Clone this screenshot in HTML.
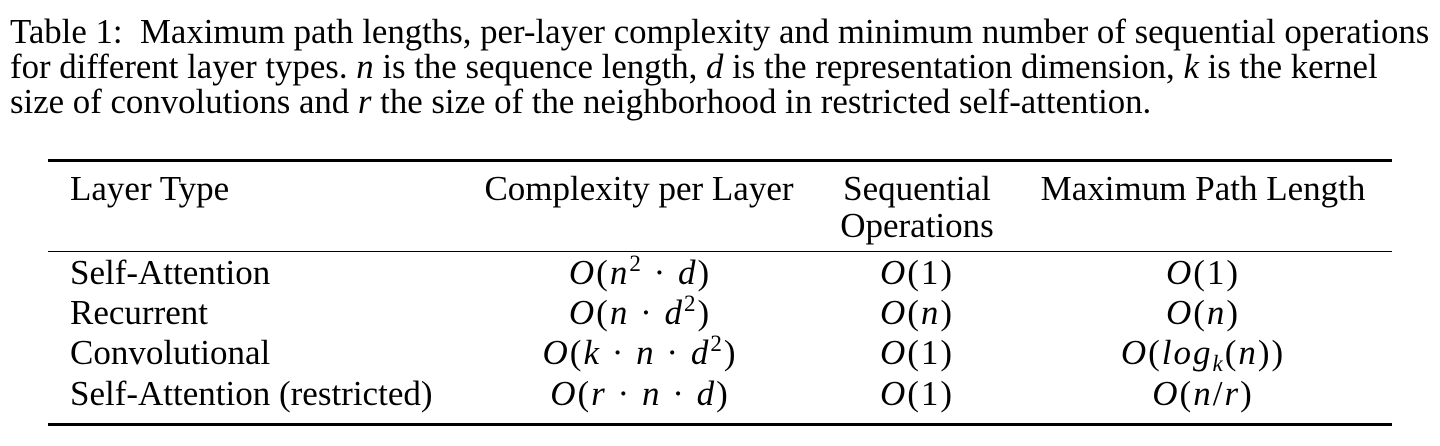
<!DOCTYPE html>
<html><head><meta charset="utf-8">
<style>
body{margin:0;background:#fff;width:1440px;height:446px;overflow:hidden;font-family:"Liberation Serif",serif;color:#000}
.cap{position:absolute;left:10px;font-size:34.8px;white-space:nowrap;line-height:1}
.t{position:absolute;font-size:35px;white-space:nowrap;line-height:1}
.m{letter-spacing:2px}
.c{transform:translateX(-50%)}
i{font-style:italic}
.rule{position:absolute;left:48px;width:1344px;background:#000}
sup{font-size:23px;vertical-align:0;position:relative;top:-13px}
sub{font-size:23px;vertical-align:0;position:relative;top:7px}
</style></head><body>
<div class="cap" style="top:15px">Table 1:&nbsp; Maximum path lengths, per-layer complexity and minimum number of sequential operations</div>
<div class="cap" style="top:50px">for different layer types. <i>n</i> is the sequence length, <i>d</i> is the representation dimension, <i>k</i> is the kernel</div>
<div class="cap" style="top:85px">size of convolutions and <i>r</i> the size of the neighborhood in restricted self-attention.</div>

<div class="rule" style="top:159px;height:2.5px"></div>
<div class="rule" style="top:251px;height:1.3px"></div>
<div class="rule" style="top:423px;height:2.5px"></div>

<div class="t" style="left:70px;top:171px">Layer Type</div>
<div class="t c" style="left:639px;top:171px">Complexity per Layer</div>
<div class="t c" style="left:917px;top:171px">Sequential</div>
<div class="t c" style="left:917px;top:208px">Operations</div>
<div class="t c" style="left:1203px;top:171px">Maximum Path Length</div>

<div class="t" style="left:70px;top:255px">Self-Attention</div>
<div class="t" style="left:70px;top:295px">Recurrent</div>
<div class="t" style="left:70px;top:335px">Convolutional</div>
<div class="t" style="left:70px;top:376px">Self-Attention (restricted)</div>

<div class="t c m" style="left:640px;top:255px"><i>O</i>(<i>n</i><sup>2</sup> · <i>d</i>)</div>
<div class="t c m" style="left:640px;top:295px"><i>O</i>(<i>n</i> · <i>d</i><sup>2</sup>)</div>
<div class="t c m" style="left:640px;top:335px"><i>O</i>(<i>k</i> · <i>n</i> · <i>d</i><sup>2</sup>)</div>
<div class="t c m" style="left:640px;top:376px"><i>O</i>(<i>r</i> · <i>n</i> · <i>d</i>)</div>

<div class="t c m" style="left:917px;top:255px"><i>O</i>(1)</div>
<div class="t c m" style="left:917px;top:295px"><i>O</i>(<i>n</i>)</div>
<div class="t c m" style="left:917px;top:335px"><i>O</i>(1)</div>
<div class="t c m" style="left:917px;top:376px"><i>O</i>(1)</div>

<div class="t c m" style="left:1203px;top:255px"><i>O</i>(1)</div>
<div class="t c m" style="left:1203px;top:295px"><i>O</i>(<i>n</i>)</div>
<div class="t c m" style="left:1203px;top:335px"><i>O</i>(<i>log<sub>k</sub></i>(<i>n</i>))</div>
<div class="t c m" style="left:1203px;top:376px"><i>O</i>(<i>n</i>/<i>r</i>)</div>
</body></html>
